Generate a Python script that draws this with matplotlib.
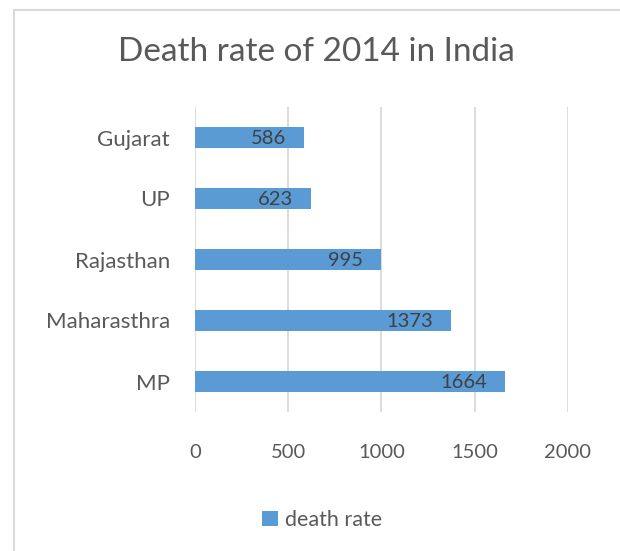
import matplotlib
matplotlib.use("Agg")
import matplotlib.pyplot as plt
from matplotlib.patches import Rectangle

states = ["MP", "Maharasthra", "Rajasthan", "UP", "Gujarat"]
deaths = [1664, 1373, 995, 623, 586]
xticks = [0, 500, 1000, 1500, 2000]

bar_col = "#5b9bd5"
txt_col = "#595959"
grid_col = "#d9d9d9"

plt.rcParams["font.family"] = ["Lato", "DejaVu Sans"]

fig = plt.figure(figsize=(6.2, 5.51), dpi=100)
ax = fig.add_axes([195 / 620, 1 - 412 / 551, 373 / 620, 305 / 551])

# outer chart frame (cut off at right and bottom like the screenshot)
fig.add_artist(Rectangle((14 / 620, -0.1), 1.2, 1 - 10 / 551 + 0.1,
                         transform=fig.transFigure, fill=False,
                         edgecolor=grid_col, lw=1.5))

ax.barh(range(len(states)), deaths, height=0.36, color=bar_col, zorder=2,
        label="death rate")
for i, v in enumerate(deaths):
    ax.annotate(str(v), (v, i), xytext=(-13, -1), textcoords="offset points",
                ha="right", va="center", fontsize=14.5, color="#404040", zorder=3)

ax.set_xlim(0, 2000)
ax.set_ylim(-0.5, len(states) - 0.5)
ax.set_xticks(xticks)
ax.set_yticks(range(len(states)))
ax.set_yticklabels(states)
ax.xaxis.grid(True, color=grid_col, lw=1.3, zorder=0)
ax.tick_params(axis="x", length=0, pad=23, labelsize=14.5, labelcolor=txt_col)
ax.tick_params(axis="y", length=0, pad=18, labelsize=16, labelcolor=txt_col)
for s in ax.spines.values():
    s.set_visible(False)

fig.text(0.51, 1 - 52 / 551, "Death rate of 2014 in India", ha="center",
         va="center", fontsize=24, color=txt_col)

fig.legend(loc="center", bbox_to_anchor=(322 / 620, 1 - 520 / 551),
           frameon=False, fontsize=15.5, labelcolor=txt_col, handlelength=0.75,
           handleheight=0.75, handletextpad=0.3)

fig.savefig("out.png", dpi=100, facecolor="white")
